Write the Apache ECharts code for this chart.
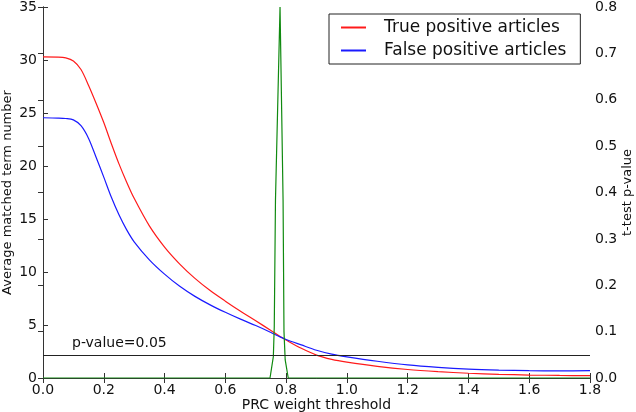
<!DOCTYPE html>
<html>
<head>
<meta charset="utf-8">
<script src="https://cdn.jsdelivr.net/npm/echarts@6/dist/echarts.min.js"></script>
<style>
html,body{margin:0;padding:0;background:#fff;}
#chart{width:636px;height:412px;}
</style>
</head>
<body>
<div id="chart"></div>
<script>
// PRC weight threshold (x)
var thresholds = [0, 0.05, 0.075, 0.1, 0.125, 0.15, 0.175, 0.2, 0.225, 0.25, 0.275, 0.3, 0.35, 0.4, 0.45, 0.5, 0.55, 0.6, 0.65, 0.7, 0.75, 0.78, 0.8, 0.85, 0.9, 0.95, 1.0, 1.1, 1.2, 1.3, 1.4, 1.5, 1.6, 1.7, 1.8];
// Average matched term number
var truePositive = [30.3, 30.28, 30.2, 29.9, 29.1, 27.6, 25.9, 24.1, 22.1, 20.2, 18.5, 16.95, 14.35, 12.35, 10.75, 9.4, 8.25, 7.25, 6.3, 5.4, 4.48, 3.92, 3.58, 2.8, 2.16, 1.76, 1.5, 1.1, 0.8, 0.6, 0.45, 0.35, 0.28, 0.24, 0.22];
var falsePositive = [24.55, 24.52, 24.48, 24.35, 23.8, 22.6, 20.8, 18.95, 17.05, 15.4, 14.0, 12.85, 11.15, 9.8, 8.65, 7.7, 6.9, 6.2, 5.55, 4.95, 4.3, 3.88, 3.63, 3.12, 2.62, 2.25, 2.0, 1.58, 1.23, 1.0, 0.84, 0.75, 0.7, 0.67, 0.69];
// t-test p-value
var pThresholds = [0, 0.1, 0.2, 0.3, 0.4, 0.5, 0.6, 0.7, 0.74, 0.747, 0.758, 0.761, 0.765, 0.780, 0.790, 0.793, 0.797, 0.807, 0.9, 1.0, 1.2, 1.4, 1.6, 1.8];
var pValues = [0, 0, 0, 0, 0, 0, 0, 0, 0, 0, 0.046, 0.11, 0.384, 0.8, 0.384, 0.1, 0.039, 0, 0, 0, 0, 0, 0, 0];
var pCutoff = 0.05;
var xTicks = {min: 0, max: 1.8, interval: 0.2};
var yLeftTicks = {min: 0, max: 35, interval: 5};
var yRightTicks = {min: 0, max: 0.8, interval: 0.1};

function zip(a, b) { return a.map(function (v, i) { return [v, b[i]]; }); }

var FONT = 'DejaVu Sans';
var axisColor = '#333';
var chart = echarts.init(document.getElementById('chart'), null, {renderer: 'canvas'});
chart.setOption({
  animation: false,
  backgroundColor: '#fff',
  textStyle: {fontFamily: FONT},
  grid: {left: 43, right: 46, top: 7, bottom: 34, containLabel: false, outerBoundsMode: 'none'},
  legend: {
    data: ['True positive articles', 'False positive articles'],
    orient: 'vertical',
    left: 329, top: 14,
    borderColor: '#222', borderWidth: 1,
    padding: [5, 14, 5, 12],
    itemWidth: 25, itemHeight: 2, icon: 'rect', itemGap: 6,
    textStyle: {fontFamily: FONT, fontSize: 17, color: '#111', padding: [0, 0, 0, 13]}
  },
  xAxis: [{
    type: 'value', min: xTicks.min, max: xTicks.max, interval: xTicks.interval,
    name: 'PRC weight threshold', nameLocation: 'middle', nameGap: 20, nameMoveOverlap: false,
    nameTextStyle: {fontFamily: FONT, fontSize: 14, color: '#111'},
    axisLine: {show: true, lineStyle: {color: axisColor, width: 1}},
    axisTick: {show: true, inside: true, length: 5, lineStyle: {color: axisColor}},
    axisLabel: {fontFamily: FONT, fontSize: 14, color: '#111', margin: 5, formatter: function (v) { return v.toFixed(1); }},
    splitLine: {show: false}
  }, {
    type: 'value', position: 'top', min: xTicks.min, max: xTicks.max, interval: xTicks.interval,
    axisLine: {show: true, lineStyle: {color: axisColor, width: 1}},
    axisTick: {show: true, inside: true, length: 5, lineStyle: {color: axisColor}},
    axisLabel: {show: false},
    splitLine: {show: false}
  }],
  yAxis: [{
    type: 'value', position: 'left', min: yLeftTicks.min, max: yLeftTicks.max, interval: yLeftTicks.interval,
    name: 'Average matched term number', nameLocation: 'middle', nameGap: 29, nameMoveOverlap: false,
    nameTextStyle: {fontFamily: FONT, fontSize: 13, color: '#111'},
    axisLine: {show: true, lineStyle: {color: axisColor, width: 1}},
    axisTick: {show: true, inside: true, length: 5, lineStyle: {color: axisColor}},
    axisLabel: {fontFamily: FONT, fontSize: 14, color: '#111', margin: 6},
    splitLine: {show: false}
  }, {
    type: 'value', position: 'right', min: yRightTicks.min, max: yRightTicks.max, interval: yRightTicks.interval,
    name: 't-test p-value', nameLocation: 'middle', nameGap: 31, nameMoveOverlap: false,
    nameTextStyle: {fontFamily: FONT, fontSize: 13, color: '#111'},
    axisLine: {show: true, lineStyle: {color: axisColor, width: 1}},
    axisTick: {show: true, inside: true, length: 5, lineStyle: {color: axisColor}},
    axisLabel: {fontFamily: FONT, fontSize: 14, color: '#111', margin: 5, formatter: function (v) { return v.toFixed(1); }},
    splitLine: {show: false}
  }],
  series: [{
    name: 'True positive articles', type: 'line', xAxisIndex: 0, yAxisIndex: 0,
    data: zip(thresholds, truePositive), showSymbol: false, smooth: 0.3,
    lineStyle: {color: '#ff1a1a', width: 1.2}, itemStyle: {color: '#ff1a1a'}
  }, {
    name: 'False positive articles', type: 'line', xAxisIndex: 0, yAxisIndex: 0,
    data: zip(thresholds, falsePositive), showSymbol: false, smooth: 0.3,
    lineStyle: {color: '#1a1aff', width: 1.2}, itemStyle: {color: '#1a1aff'}
  }, {
    name: 't-test p-value', type: 'line', xAxisIndex: 0, yAxisIndex: 1,
    data: zip(pThresholds, pValues), showSymbol: false,
    lineStyle: {color: '#108a10', width: 1.2}, itemStyle: {color: '#108a10'},
    markLine: {
      silent: true, symbol: 'none',
      lineStyle: {color: '#222', width: 1, type: 'solid'},
      label: {show: true, position: 'insideStartTop', distance: [29, 4], formatter: 'p-value=0.05',
              fontFamily: FONT, fontSize: 14, color: '#111'},
      data: [{yAxis: pCutoff}]
    }
  }]
});
</script>
</body>
</html>
